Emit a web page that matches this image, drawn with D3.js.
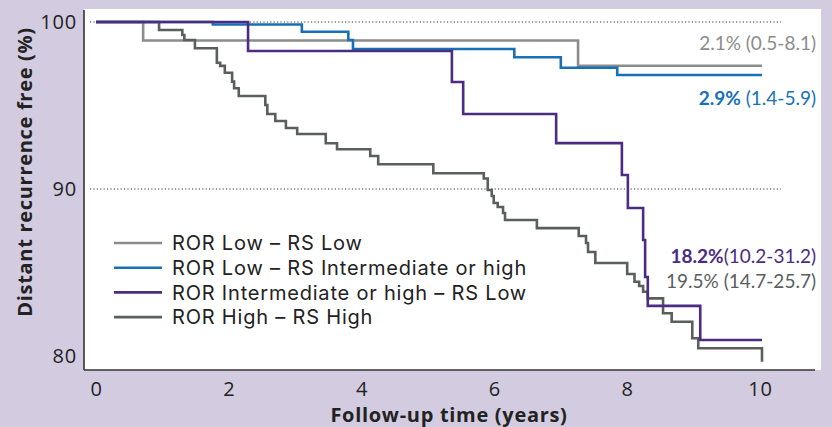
<!DOCTYPE html>
<html>
<head>
<meta charset="utf-8">
<script src="https://cdn.jsdelivr.net/npm/d3@7"></script>
<style>
  body { margin: 0; background: #d3cce0; }
  svg { display: block; }
  .axis text { font-family: "Open Sans", sans-serif; font-size: 20px; letter-spacing: 0.8px; fill: #222; }
  .legend text { font-family: Inter, "Open Sans", sans-serif; font-size: 20px; letter-spacing: 0.8px; fill: #222; }
  .title { font-family: "Open Sans", sans-serif; font-size: 20px; font-weight: 700; letter-spacing: 0.7px; fill: #222; }
  .note { font-family: Lato, "Open Sans", sans-serif; font-size: 19px; }
</style>
</head>
<body>
<div id="chart"></div>
<script>
// Kaplan-Meier step points (years, % free)
var lowLowT = [0, 0.71, 7.26, 10.03];
var lowLowS = [100, 98.89, 97.38, 97.38];

var lowIntT = [0, 1.76, 3.10, 3.80, 3.87, 6.30, 7.00, 7.85, 10.03];
var lowIntS = [100, 99.85, 99.42, 98.92, 98.38, 97.89, 97.26, 96.83, 96.83];

var intLowT = [0, 2.29, 5.36, 5.53, 6.93, 7.92, 8.01, 8.24, 8.27, 8.31, 9.10, 10.03];
var intLowS = [100, 98.26, 96.41, 94.49, 92.75, 90.84, 88.86, 86.95, 84.73, 83.0, 80.96, 80.96];

var highHighT = [0, 0.95, 1.30, 1.33, 1.49, 1.82, 1.87, 1.94, 2.05, 2.08, 2.15, 2.55, 2.58, 2.70, 2.86,
    3.03, 3.46, 3.63, 4.13, 4.25, 5.08, 5.84, 5.90, 5.96, 5.99, 6.05, 6.13, 6.16, 6.64, 7.27, 7.38,
    7.41, 7.52, 8.00, 8.11, 8.18, 8.24, 8.31, 8.54, 8.67, 8.98, 9.07, 10.03];
var highHighS = [100, 99.52, 99.22, 98.92, 98.43, 97.56, 97.37, 96.96, 96.43, 96.03, 95.57, 95.03, 94.49, 94.07, 93.65,
    93.29, 92.74, 92.38, 91.98, 91.48, 90.94, 90.63, 89.94, 89.58, 89.16, 88.92, 88.56, 88.14, 87.66, 87.19, 86.77,
    86.23, 85.57, 84.91, 84.45, 84.19, 83.85, 83.45, 82.56, 82.05, 81.06, 80.46, 79.66];

var seriesNames = ['ROR Low – RS Low', 'ROR Low – RS Intermediate or high',
    'ROR Intermediate or high – RS Low', 'ROR High – RS High'];
var seriesColors = ['#8c8c8c', '#1870b8', '#4b2c82', '#5a5e5e'];

var xTicks = [0, 2, 4, 6, 8, 10];
var yTicks = [80, 90, 100];
var gridValues = [90, 100];

// bold part + plain part of the end labels, per series
var noteBold = ['', '2.9%', '18.2%', ''];
var notePlain = ['2.1% (0.5-8.1)', ' (1.4-5.9)', '(10.2-31.2)', '19.5% (14.7-25.7)'];

var width = 832,
    height = 427,
    panel = {left: 84, top: 9, right: 821, bottom: 370};

var xScale = d3.scaleLinear().domain([0, 10]).range([96, 760]);
var yScale = d3.scaleLinear().domain([80, 100]).range([356, 22]);

var svg = d3.select('#chart')
    .append('svg')
    .attr('width', width)
    .attr('height', height);

svg.append('rect')
    .attr('x', panel.left)
    .attr('y', panel.top)
    .attr('width', panel.right - panel.left)
    .attr('height', panel.bottom - panel.top)
    .attr('fill', '#fff');

svg.append('g')
    .selectAll('line')
    .data(gridValues)
    .enter()
    .append('line')
    .attr('x1', 90)
    .attr('x2', 781)
    .attr('y1', function (d) { return yScale(d); })
    .attr('y2', function (d) { return yScale(d); })
    .attr('stroke', '#333')
    .attr('stroke-width', 1.2)
    .attr('stroke-dasharray', '1.2,2.2');

var xAxis = svg.append('g')
    .classed('axis', true)
    .attr('transform', 'translate(0,' + panel.bottom + ')')
    .call(d3.axisBottom(xScale).tickValues(xTicks).tickSize(0).tickPadding(12));
xAxis.select('.domain').remove();

var yAxis = svg.append('g')
    .classed('axis', true)
    .attr('transform', 'translate(' + panel.left + ',0)')
    .call(d3.axisLeft(yScale).tickValues(yTicks).tickSize(0).tickPadding(7));
yAxis.select('.domain').remove();

svg.selectAll('.axis').attr('font-family', null).attr('font-size', null);

svg.append('line')
    .attr('x1', panel.left).attr('x2', panel.left)
    .attr('y1', panel.top + 1).attr('y2', panel.bottom)
    .attr('stroke', '#333').attr('stroke-width', 1.6);

svg.append('line')
    .attr('x1', panel.left).attr('x2', 815)
    .attr('y1', panel.bottom).attr('y2', panel.bottom)
    .attr('stroke', '#333').attr('stroke-width', 1.6);

var series = [
    d3.zip(lowLowT, lowLowS),
    d3.zip(lowIntT, lowIntS),
    d3.zip(intLowT, intLowS),
    d3.zip(highHighT, highHighS)
];

var line = d3.line()
    .x(function (d) { return xScale(d[0]); })
    .y(function (d) { return yScale(d[1]); })
    .curve(d3.curveStepAfter);

// purple drawn last so it sits on top
var drawOrder = [0, 1, 3, 2];
svg.append('g')
    .selectAll('path')
    .data(drawOrder)
    .enter()
    .append('path')
    .attr('d', function (i) { return line(series[i]); })
    .attr('fill', 'none')
    .attr('stroke', function (i) { return seriesColors[i]; })
    .attr('stroke-width', 2.6);

var legend = svg.append('g').classed('legend', true);
var rows = legend.selectAll('g')
    .data(seriesNames)
    .enter()
    .append('g')
    .attr('transform', function (d, i) { return 'translate(114,' + (243 + i * 24.7) + ')'; });
rows.append('line')
    .attr('x1', 0).attr('x2', 48)
    .attr('stroke', function (d, i) { return seriesColors[i]; })
    .attr('stroke-width', 2.6);
rows.append('text')
    .attr('x', 58)
    .attr('dy', '0.36em')
    .text(function (d) { return d; });

var noteY = [50, 105, 263, 288];
var notes = svg.append('g')
    .selectAll('text')
    .data(notePlain)
    .enter()
    .append('text')
    .classed('note', true)
    .attr('x', 816)
    .attr('y', function (d, i) { return noteY[i]; })
    .attr('text-anchor', 'end')
    .attr('fill', function (d, i) { return seriesColors[i]; });
notes.append('tspan')
    .attr('font-weight', 700)
    .text(function (d, i) { return noteBold[i]; });
notes.append('tspan')
    .text(function (d) { return d; });

svg.append('text')
    .classed('title', true)
    .attr('text-anchor', 'middle')
    .attr('transform', 'translate(32,172) rotate(-90)')
    .text('Distant recurrence free (%)');

svg.append('text')
    .classed('title', true)
    .attr('text-anchor', 'middle')
    .attr('x', 449)
    .attr('y', 422)
    .text('Follow-up time (years)');
</script>
</body>
</html>
